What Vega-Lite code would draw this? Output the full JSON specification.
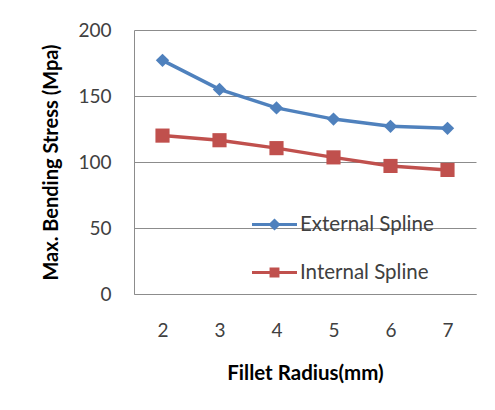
{
  "$schema": "https://vega.github.io/schema/vega-lite/v6.json",
  "width": 342,
  "height": 264,
  "autosize": {"type": "none"},
  "padding": {"left": 134, "top": 30, "right": 19, "bottom": 116},
  "background": "white",
  "config": {
    "font": "Lato",
    "view": {"stroke": null},
    "axis": {"labelFont": "Lato", "titleFont": "Lato"}
  },
  "data": {
    "values": [
      {"radius": 2, "series": "External Spline", "stress": 177},
      {"radius": 3, "series": "External Spline", "stress": 155},
      {"radius": 4, "series": "External Spline", "stress": 141},
      {"radius": 5, "series": "External Spline", "stress": 132.5},
      {"radius": 6, "series": "External Spline", "stress": 127},
      {"radius": 7, "series": "External Spline", "stress": 125.5},
      {"radius": 2, "series": "Internal Spline", "stress": 120},
      {"radius": 3, "series": "Internal Spline", "stress": 116.5},
      {"radius": 4, "series": "Internal Spline", "stress": 110.5},
      {"radius": 5, "series": "Internal Spline", "stress": 103.5},
      {"radius": 6, "series": "Internal Spline", "stress": 97},
      {"radius": 7, "series": "Internal Spline", "stress": 94}
    ]
  },
  "encoding": {
    "x": {
      "field": "radius",
      "type": "ordinal",
      "scale": {"padding": 0.5},
      "axis": {
        "title": "Fillet Radius(mm)",
        "labelAngle": 0,
        "labelFontSize": 19,
        "labelColor": "#404040",
        "labelPadding": 27,
        "ticks": false,
        "domainColor": "#8c8c8c",
        "domainWidth": 1,
        "titleFontSize": 20.5,
        "titleFontWeight": "bold",
        "titleColor": "#000000",
        "titleBaseline": "middle",
        "titleY": 79
      }
    },
    "y": {
      "field": "stress",
      "type": "quantitative",
      "scale": {"domain": [0, 200], "nice": false},
      "axis": {
        "title": "Max. Bending Stress (Mpa)",
        "values": [0, 50, 100, 150, 200],
        "labelFontSize": 19,
        "labelColor": "#404040",
        "labelPadding": 23,
        "ticks": false,
        "domainColor": "#8c8c8c",
        "domainWidth": 1,
        "grid": true,
        "gridColor": "#8c8c8c",
        "gridWidth": 1,
        "titleFontSize": 20,
        "titleFontWeight": "bold",
        "titleColor": "#000000",
        "titleBaseline": "middle",
        "titleX": -83
      }
    },
    "color": {
      "field": "series",
      "type": "nominal",
      "scale": {"domain": ["External Spline", "Internal Spline"], "range": ["#4F81BD", "#C0504D"]},
      "legend": {
        "title": null,
        "orient": "none",
        "legendX": 118,
        "legendY": 172,
        "symbolSize": 2025,
        "symbolStrokeWidth": 0,
        "labelFontSize": 20.5,
        "labelColor": "#404040",
        "labelFont": "Lato",
        "labelOffset": 3,
        "rowPadding": 15,
        "encode": {
          "symbols": {
            "update": {
              "shape": {"signal": "datum.value === 'External Spline' ? 'M-1,-0.07L1,-0.07L1,0.07L-1,0.07Z M0,-0.27L0.27,0L0,0.27L-0.27,0Z' : 'M-1,-0.07L1,-0.07L1,0.07L-1,0.07Z M-0.22,-0.22L0.22,-0.22L0.22,0.22L-0.22,0.22Z'"},
              "fill": {"signal": "datum.value === 'External Spline' ? '#4F81BD' : '#C0504D'"},
              "opacity": {"value": 1},
              "fillOpacity": {"value": 1},
              "strokeWidth": {"value": 0}
            }
          }
        }
      }
    }
  },
  "layer": [
    {"mark": {"type": "line", "strokeWidth": 3.5}},
    {
      "transform": [{"filter": "datum.series === 'External Spline'"}],
      "mark": {"type": "point", "shape": "diamond", "filled": true, "opacity": 1, "size": 180}
    },
    {
      "transform": [{"filter": "datum.series === 'Internal Spline'"}],
      "mark": {"type": "point", "shape": "square", "filled": true, "opacity": 1, "size": 200}
    }
  ]
}
